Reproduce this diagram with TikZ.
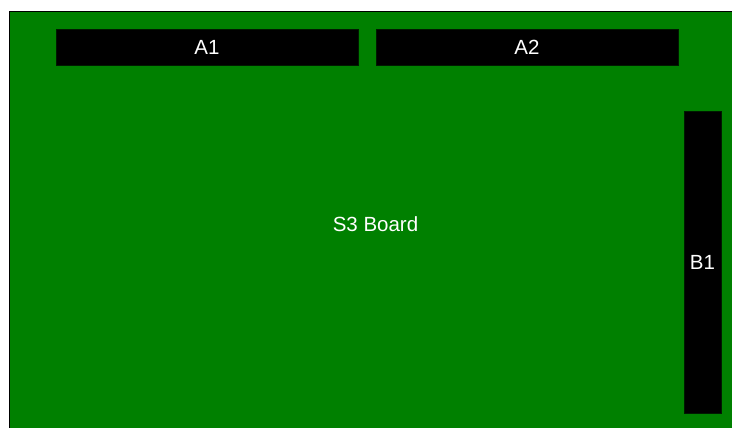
\documentclass[tikz,border=0pt]{standalone}
\usepackage{fontspec}
\setmainfont{Liberation Sans}
\definecolor{boardgreen}{RGB}{0,128,0}

\begin{document}
\begin{tikzpicture}[x=1pt,y=-1pt,
	header/.style={shape=rectangle,fill=black,draw=black!80!boardgreen,inner sep=0pt,text=white,font=\fontsize{20.5}{21}\selectfont}]
	\useasboundingbox (0,0) rectangle (732,428);
	\clip (0,0) rectangle (732,428);

	\node[shape=rectangle,fill=boardgreen,draw=black,line width=1pt,anchor=north west,minimum width=733pt,minimum height=425pt,text=white,font=\fontsize{20.5}{21}\selectfont] (board) at (8.5, 11.5) {S3 Board};

	\node[header,minimum width=302pt,minimum height=36pt] (A1) at (207, 47)     {A1};
	\node[header,minimum width=302pt,minimum height=36pt] (A2) at (527, 47)     {A2};
	\node[header,minimum width=37pt,minimum height=302pt] (B1) at (702.5, 262)     {B1};

\end{tikzpicture}
\end{document}
